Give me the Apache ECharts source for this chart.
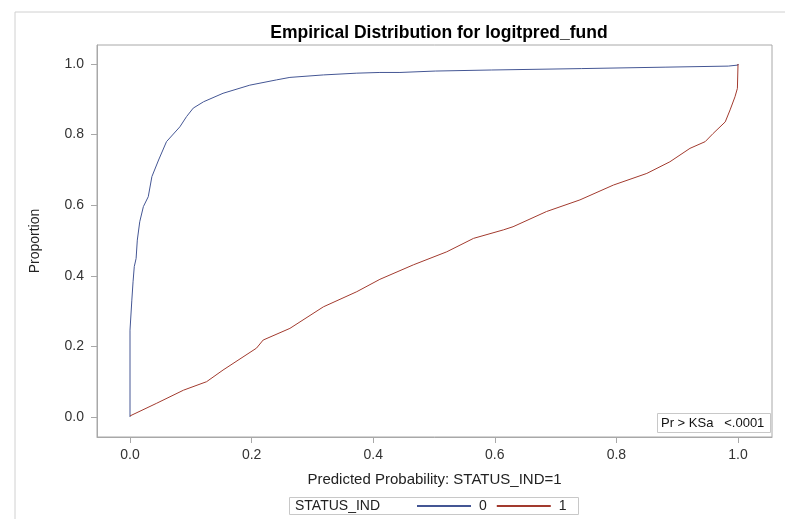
<!DOCTYPE html>
<html>
<head>
<meta charset="utf-8">
<script src="https://cdn.jsdelivr.net/npm/echarts@6/dist/echarts.min.js"></script>
<style>
  html, body { margin: 0; padding: 0; background: #fff; }
  #main { width: 785px; height: 519px; }
</style>
</head>
<body>
<div id="main"></div>
<script>
// ECDF of predicted probability, STATUS_IND = 0 (blue)
var x0 = [0, 0, 0.003, 0.005, 0.007, 0.010, 0.012, 0.016, 0.022, 0.030, 0.036, 0.047, 0.060, 0.082, 0.093, 0.104, 0.121, 0.153, 0.197, 0.241, 0.263, 0.318, 0.373, 0.411, 0.444, 0.444, 0.502, 0.502, 0.595, 0.595, 0.743, 0.743, 0.880, 0.880, 0.984, 0.984, 1.0, 1.0];
var y0 = [0, 0.246, 0.331, 0.383, 0.426, 0.449, 0.501, 0.553, 0.596, 0.624, 0.681, 0.728, 0.780, 0.822, 0.851, 0.875, 0.893, 0.917, 0.940, 0.955, 0.962, 0.969, 0.974, 0.976, 0.976, 0.980, 0.980, 0.983, 0.983, 0.987, 0.987, 0.991, 0.991, 0.994, 0.994, 0.997, 0.997, 1.0];

// STATUS_IND = 1 (red)
var x1 = [0, 0.044, 0.088, 0.126, 0.153, 0.208, 0.219, 0.263, 0.318, 0.373, 0.411, 0.466, 0.521, 0.565, 0.614, 0.630, 0.685, 0.740, 0.795, 0.850, 0.888, 0.921, 0.946, 0.959, 0.979, 0.987, 0.995, 0.999, 1.0, 1.0];
var y1 = [0.003, 0.039, 0.076, 0.100, 0.133, 0.195, 0.218, 0.251, 0.312, 0.355, 0.390, 0.431, 0.468, 0.506, 0.530, 0.539, 0.582, 0.615, 0.657, 0.690, 0.723, 0.761, 0.780, 0.803, 0.836, 0.870, 0.907, 0.931, 0.997, 1.0];

var ticks = [0, 0.2, 0.4, 0.6, 0.8, 1.0];

function pairs(xs, ys) {
    return xs.map(function (x, i) { return [x, ys[i]]; });
}

var font = "'Liberation Sans', Arial, sans-serif";
var frameColor = '#a8a8a8';

var chart = echarts.init(document.getElementById('main'));
chart.setOption({
    animation: false,
    textStyle: { fontFamily: font },
    title: {
        text: 'Empirical Distribution for logitpred_fund',
        left: 434,
        textAlign: 'center',
        top: 19,
        textStyle: { fontSize: 17.5, fontWeight: 'bold', color: '#000', fontFamily: font }
    },
    grid: {
        left: 97, right: 13, top: 45, bottom: 82,
        show: true, borderColor: frameColor, borderWidth: 1
    },
    xAxis: {
        type: 'value',
        min: -0.0543, max: 1.0559,
        name: 'Predicted Probability: STATUS_IND=1',
        nameLocation: 'middle',
        nameGap: 35,
        nameTextStyle: { fontSize: 15, color: '#222' },
        splitLine: { show: false },
        axisLine: { show: true, onZero: false, lineStyle: { color: frameColor } },
        axisTick: { show: true, length: 6, customValues: ticks, lineStyle: { color: frameColor } },
        axisLabel: {
            customValues: ticks, fontSize: 14, color: '#333', margin: 11,
            formatter: function (v) { return v.toFixed(1); }
        }
    },
    yAxis: {
        type: 'value',
        min: -0.0567, max: 1.0538,
        name: 'Proportion',
        nameLocation: 'middle',
        nameGap: 55,
        nameTextStyle: { fontSize: 14, color: '#222' },
        splitLine: { show: false },
        axisLine: { show: true, onZero: false, lineStyle: { color: frameColor } },
        axisTick: { show: true, length: 6, customValues: ticks, lineStyle: { color: frameColor } },
        axisLabel: {
            customValues: ticks, fontSize: 14, color: '#333', margin: 13,
            formatter: function (v) { return v.toFixed(1); }
        }
    },
    legend: {
        left: 412, top: 494,
        itemWidth: 54, itemHeight: 2, itemGap: 10,
        icon: 'rect',
        textStyle: { fontSize: 14, color: '#222', padding: [0, 0, 0, 3] },
        data: ['0', '1']
    },
    graphic: [
        { type: 'line', shape: { x1: 15, y1: 12, x2: 15, y2: 519 }, style: { stroke: '#d0d0d0', lineWidth: 1 } },
        { type: 'line', shape: { x1: 15, y1: 12, x2: 785, y2: 12 }, style: { stroke: '#d0d0d0', lineWidth: 1 } },
        { type: 'rect', shape: { x: 289.5, y: 497.5, width: 289, height: 17 }, style: { fill: 'none', stroke: '#c8c8c8', lineWidth: 1 } },
        { type: 'text', x: 295, y: 506.5, style: { text: 'STATUS_IND', font: '14px ' + font, fill: '#222', verticalAlign: 'middle' } },
        { type: 'rect', shape: { x: 657.5, y: 413.5, width: 113, height: 19 }, style: { fill: '#fff', stroke: '#c8c8c8', lineWidth: 1 } },
        { type: 'text', x: 661, y: 423.5, style: { text: 'Pr > KSa   <.0001', font: '13px ' + font, fill: '#111', verticalAlign: 'middle' } }
    ],
    series: [
        {
            name: '0', type: 'line', data: pairs(x0, y0),
            showSymbol: false, symbol: 'none',
            color: '#445694',
            lineStyle: { width: 1, color: '#445694' }
        },
        {
            name: '1', type: 'line', data: pairs(x1, y1),
            showSymbol: false, symbol: 'none',
            color: '#a23a2e',
            lineStyle: { width: 1, color: '#a23a2e' }
        }
    ]
});
</script>
</body>
</html>
